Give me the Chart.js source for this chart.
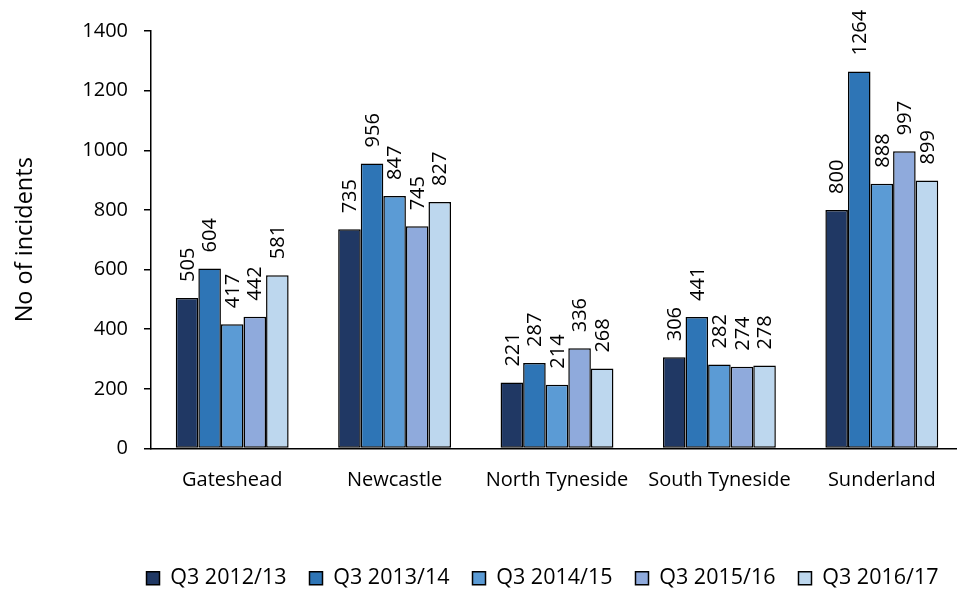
<!DOCTYPE html>
<html>
<head>
<meta charset="utf-8">
<script src="https://cdn.jsdelivr.net/npm/chart.js@4/dist/chart.umd.min.js"></script>
<style>
  html, body { margin: 0; padding: 0; background: #fff; overflow: hidden; }
  #wrap { width: 965px; height: 589px; }
</style>
</head>
<body>
<div id="wrap"><canvas id="chart-incidents" width="965" height="589"></canvas></div>
<script>
"use strict"

var areas = ['Gateshead', 'Newcastle', 'North Tyneside', 'South Tyneside', 'Sunderland']
var periods = ['Q3 2012/13', 'Q3 2013/14', 'Q3 2014/15', 'Q3 2015/16', 'Q3 2016/17']
var q3_1213 = [505, 735, 221, 306, 800]
var q3_1314 = [604, 956, 287, 441, 1264]
var q3_1415 = [417, 847, 214, 282, 888]
var q3_1516 = [442, 745, 336, 274, 997]
var q3_1617 = [581, 827, 268, 278, 899]
var colours = ['#203864', '#2E75B6', '#5B9BD5', '#8FAADC', '#BDD7EE']
var yTicks = [0, 200, 400, 600, 800, 1000, 1200, 1400]

var seriesValues = [q3_1213, q3_1314, q3_1415, q3_1516, q3_1617]
var font = "'Open Sans', sans-serif"

// value labels, rotated, above each bar
var barLabels = {
    id: 'barLabels',
    afterDatasetsDraw: function (chart) {
        var ctx = chart.ctx
        ctx.save()
        ctx.font = '20px ' + font
        ctx.fillStyle = '#000'
        ctx.textAlign = 'left'
        ctx.textBaseline = 'middle'
        chart.data.datasets.forEach(function (ds, i) {
            chart.getDatasetMeta(i).data.forEach(function (bar, j) {
                ctx.save()
                ctx.translate(bar.x + 1, bar.y - 16)
                ctx.rotate(-Math.PI / 2)
                ctx.fillText(String(ds.data[j]), 0, 0)
                ctx.restore()
            })
        })
        ctx.restore()
    }
}

// the legend sits a bit right of the canvas centre in the original
var legendShift = {
    id: 'legendShift',
    afterLayout: function (chart) {
        chart.legend.left += 61
        chart.legend.right += 61
    }
}

var ctx = document.getElementById('chart-incidents').getContext('2d')
var chartIncidents = new Chart(ctx, {
    type: 'bar',
    data: {
        labels: areas,
        datasets: periods.map(function (p, i) {
            return {
                label: p,
                data: seriesValues[i],
                backgroundColor: colours[i],
                borderColor: '#000',
                borderWidth: 1.5,
                borderSkipped: false,
                categoryPercentage: 0.695,
                barPercentage: 1.0
            }
        })
    },
    options: {
        responsive: false,
        animation: false,
        layout: { padding: { top: 31, right: 2, bottom: -10, left: 0 } },
        plugins: {
            tooltip: { enabled: false },
            legend: {
                position: 'bottom',
                labels: {
                    color: '#000',
                    font: { family: font, size: 21.5 },
                    boxWidth: 13,
                    boxHeight: 13,
                    padding: 23
                }
            }
        },
        scales: {
            x: {
                grid: { display: false, drawTicks: false },
                border: { color: '#000', width: 1.5 },
                ticks: { color: '#000', font: { family: font, size: 20 }, padding: 20, maxRotation: 0 },
                afterFit: function (scale) { scale.height = 96 }
            },
            y: {
                min: 0,
                max: 1400,
                afterBuildTicks: function (scale) {
                    scale.ticks = yTicks.map(function (v) { return { value: v } })
                },
                grid: { drawOnChartArea: false, drawTicks: true, tickLength: 7, color: '#000', lineWidth: 1.5 },
                border: { color: '#000', width: 1.5 },
                ticks: {
                    color: '#000',
                    font: { family: font, size: 20 },
                    padding: 16,
                    callback: function (v) { return String(v) }
                },
                title: {
                    display: true,
                    text: 'No of incidents',
                    color: '#000',
                    font: { family: font, size: 23.5 },
                    padding: { top: 11, bottom: 0 }
                },
                afterFit: function (scale) { scale.width = 151 }
            }
        }
    },
    plugins: [barLabels, legendShift]
})
</script>
</body>
</html>
